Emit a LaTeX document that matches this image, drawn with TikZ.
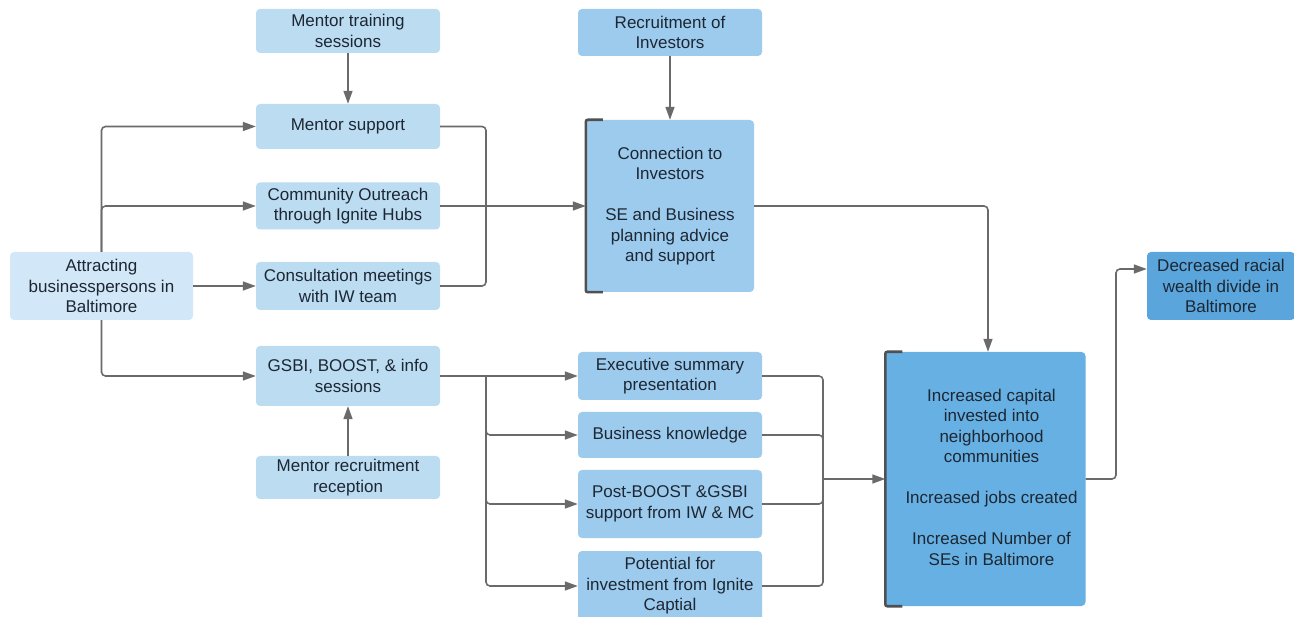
\documentclass[tikz,border=0pt]{standalone}
\usepackage{fontspec}
\setmainfont{Liberation Sans}
\usetikzlibrary{arrows.meta}
\definecolor{txt}{HTML}{1D2733}
\definecolor{paleblue}{HTML}{D2E7F7}
\definecolor{lightblue}{HTML}{BCDCF2}
\definecolor{midblue}{HTML}{9DCBEE}
\definecolor{deepblue}{HTML}{66B0E3}
\definecolor{darkblue}{HTML}{5AA6DC}
\definecolor{wire}{HTML}{6A6A6A}
\definecolor{brk}{HTML}{505050}
\tikzset{
  box/.style={rectangle, rounded corners=4pt, align=center, inner sep=0pt,
    text=txt, font=\fontsize{17}{20.5}\selectfont},
  lbox/.style={box, fill=lightblue, minimum width=184pt},
  mbox/.style={box, fill=midblue, minimum width=184pt},
  link/.style={draw=wire, line width=1.6pt, rounded corners=4pt},
  arr/.style={link, -{Triangle[length=13pt,width=9pt]}},
  bracket/.style={draw=brk, line width=2.6pt, rounded corners=2pt}
}
\begin{document}
\begin{tikzpicture}[x=1pt,y=-1pt]
\useasboundingbox (0,0) rectangle (1294,617);

% left column
\node[box, fill=paleblue, minimum width=183pt, minimum height=68pt] (att) at (101.5,286) {Attracting\\businesspersons in\\Baltimore};
\node[lbox, minimum height=44pt] (mt) at (348,31) {Mentor training\\sessions};
\node[lbox, minimum height=45pt] (ms) at (348,126.5) {Mentor support};
\node[lbox, minimum height=47pt] (co) at (348,206) {Community Outreach\\through Ignite Hubs};
\node[lbox, minimum height=48pt] (cm) at (348,286) {Consultation meetings\\with IW team};
\node[lbox, minimum height=60pt] (gs) at (348,376) {GSBI, BOOST, \& info\\sessions};
\node[lbox, minimum height=43pt] (mr) at (348,477.5) {Mentor recruitment\\reception};

% middle column
\node[mbox, minimum height=47pt] (ri) at (670,32.5) {Recruitment of\\Investors};
\node[box, fill=midblue, minimum width=168pt, minimum height=172pt] (con) at (670,206)
  {Connection to\\Investors\\[20.5pt]SE and Business\\planning advice\\and support};
\node[mbox, minimum height=48pt] (ex) at (670,376) {Executive summary\\presentation};
\node[mbox, minimum height=46pt] (bk) at (670,435) {Business knowledge};
\node[mbox, minimum height=68pt] (pb) at (670,504) {Post-BOOST \&GSBI\\support from IW \& MC};
\node[mbox, minimum height=70pt] (pi) at (670,586) {Potential for\\investment from Ignite\\Captial};

% right column
\node[box, fill=deepblue, minimum width=200pt, minimum height=254pt] (big) at (985.5,479)
  {\hspace*{12pt}\begin{tabular}{@{}c@{}}Increased capital\\invested into\\neighborhood\\communities\\[20.5pt]Increased jobs created\\[20.5pt]Increased Number of\\SEs in Baltimore\end{tabular}};
\node[box, fill=darkblue, minimum width=148pt, minimum height=68pt] (dec) at (1221,286) {Decreased racial\\wealth divide in\\Baltimore};

% brackets on the left edges of the two large boxes
\draw[bracket] ([xshift=17pt]con.north west) -- (con.north west) -- (con.south west) -- ([xshift=17pt]con.south west);
\draw[bracket] ([xshift=17pt]big.north west) -- (big.north west) -- (big.south west) -- ([xshift=17pt]big.south west);

% junction points
\coordinate (j1) at (486,206);
\coordinate (j2) at (486,376);
\coordinate (j3) at (823,479);
\coordinate (j4) at (1116,479);

% from the attracting box
\draw[arr] (att.north) |- (ms.west);
\draw[arr] (att.north) |- (co.west);
\draw[arr] (att.east) -- (cm.west);
\draw[arr] (att.south) |- (gs.west);

% mentor feeds
\draw[arr] (mt.south) -- (ms.north);
\draw[arr] (mr.north) -- (gs.south);

% into the connection box
\draw[link] (ms.east) -| (j1);
\draw[link] (cm.east) -| (j1);
\draw[arr] (co.east) -- (con.west);
\draw[arr] (ri.south) -- (con.north);

% GSBI branches
\draw[arr] (gs.east) -- (ex.west);
\draw[arr] (j2) |- (bk.west);
\draw[arr] (j2) |- (pb.west);
\draw[arr] (j2) |- (pi.west);

% into the outcome box
\draw[link] (ex.east) -| (j3);
\draw[link] (bk.east) -| (j3);
\draw[link] (pb.east) -| (j3);
\draw[link] (pi.east) -| (j3);
\draw[arr] (j3) -- (big.west);
\draw[arr] (con.east) -| ([xshift=2.5pt]big.north);

% to the final outcome
\draw[arr] (big.east) -- (j4) |- ([yshift=17pt]dec.west);
\end{tikzpicture}
\end{document}
